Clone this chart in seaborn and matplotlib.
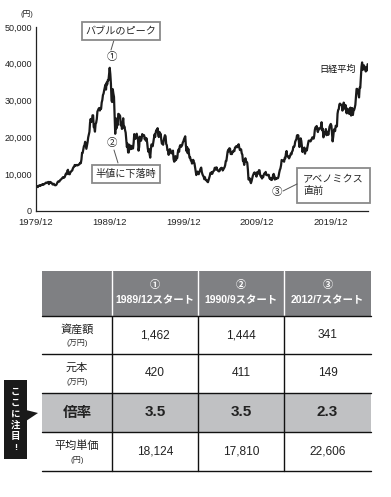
import numpy as np
import matplotlib
matplotlib.use('Agg')
import matplotlib.pyplot as plt
import seaborn as sns
from matplotlib.patches import Rectangle, Polygon

# 日経平均 月末終値 (1979/12 〜 2024/12, 円)
nikkei = [
    6569,
    6700, 6800, 6500, 6800, 6900, 7000, 6800, 7000, 7100, 7200, 7300, 7116,
    7300, 7400, 7500, 7700, 7600, 7700, 7800, 7900, 7300, 7800, 7900, 7682,
    7700, 7500, 7200, 7300, 7400, 7100, 7000, 7000, 7100, 7400, 7800, 8017,
    8000, 8000, 8300, 8500, 8600, 8800, 9000, 9200, 9000, 9100, 9300, 9894,
    10200, 10000, 10900, 11200, 10100, 10000, 10000, 10600, 10700, 10900, 11000, 11543,
    11900, 12000, 12500, 12300, 12500, 12500, 12400, 12400, 12600, 12600, 12800, 13113,
    13000, 14000, 15800, 15800, 16700, 17600, 17900, 18800, 17900, 16900, 17800, 18701,
    20000, 20700, 21500, 24000, 25000, 24200, 24500, 26000, 26000, 22800, 22700, 21564,
    23600, 24000, 25000, 27000, 27400, 27800, 28000, 27300, 27900, 27800, 29500, 30159,
    31500, 31900, 32800, 33500, 34300, 33000, 34900, 34400, 35600, 35500, 37300, 38916,
    37200, 34600, 29980, 29600, 33100, 31900, 31000, 25900, 20984, 25200, 22450, 23849,
    23300, 26400, 26300, 26100, 25800, 23300, 23900, 22300, 23900, 25200, 22700, 22984,
    22000, 21300, 19300, 17400, 18300, 15900, 15900, 18000, 17400, 16800, 17700, 16925,
    17000, 17000, 18600, 20900, 20500, 19600, 20400, 21000, 20100, 19700, 16400, 17417,
    20200, 19100, 19100, 19700, 20900, 20600, 20500, 20600, 19500, 19900, 19100, 19723,
    18600, 17000, 16100, 16800, 15400, 14500, 16700, 18100, 17900, 17600, 18700, 19868,
    20800, 20100, 21400, 22000, 21800, 22500, 20700, 20100, 21500, 20500, 21000, 19361,
    18300, 18600, 18000, 19200, 20000, 20600, 20300, 18200, 17900, 16500, 16600, 15259,
    16600, 16800, 16500, 15700, 15700, 15800, 16400, 14100, 13400, 13600, 14900, 13842,
    14500, 14400, 16000, 16700, 16100, 17500, 17900, 17400, 17600, 17900, 18600, 18934,
    19500, 19900, 20300, 17900, 16300, 17400, 15700, 16900, 15700, 14500, 14600, 13786,
    13800, 12900, 13000, 13900, 13300, 12970, 11900, 10700, 9770, 10400, 10700, 10543,
    9990, 10600, 11000, 11500, 11800, 10600, 10000, 9600, 9380, 8640, 9200, 8579,
    8340, 8360, 7970, 7830, 8420, 9080, 9560, 10340, 10220, 10560, 10100, 10677,
    10780, 11040, 11720, 11760, 11240, 11860, 11330, 11080, 10820, 10770, 10900, 11489,
    11390, 11740, 11670, 11010, 11280, 11580, 11900, 12410, 13570, 13610, 14870, 16111,
    16650, 16200, 17060, 16910, 15470, 15510, 15460, 16140, 16130, 16400, 16270, 17226,
    17380, 17600, 17290, 17400, 17880, 18140, 17250, 16570, 16790, 16740, 15680, 15308,
    13590, 13600, 12530, 13850, 14340, 13480, 13380, 13070, 11260, 8580, 8510, 8860,
    7990, 7570, 8110, 8830, 9520, 9960, 10360, 10490, 10130, 10030, 9350, 10546,
    10200, 10130, 11090, 11060, 9770, 9380, 9540, 8820, 9370, 9200, 9940, 10229,
    10240, 10620, 9760, 9850, 9690, 9820, 9830, 8960, 8700, 8990, 8430, 8455,
    8800, 9720, 10080, 9520, 8540, 9010, 8700, 8840, 8870, 8930, 9450, 10395,
    11140, 11560, 12400, 13860, 13770, 13680, 13670, 13390, 14450, 14330, 15660, 16291,
    14910, 14840, 14830, 14300, 14630, 15160, 15620, 15420, 16170, 16410, 17460, 17451,
    17670, 18800, 19210, 19520, 20560, 20240, 20590, 18890, 17390, 19080, 19750, 19034,
    17520, 16030, 16760, 16670, 17230, 15580, 16570, 16890, 16450, 17430, 18310, 19114,
    19040, 19120, 18910, 19200, 19650, 20030, 19930, 19650, 20360, 22010, 22720, 22765,
    23100, 22070, 21450, 22470, 22200, 22300, 22550, 22870, 24120, 21920, 22350, 20015,
    20770, 21390, 21200, 22260, 20600, 21280, 21520, 20700, 21760, 22930, 23290, 23657,
    23200, 21140, 18920, 20190, 21880, 22290, 21710, 23140, 23190, 22980, 26430, 27444,
    27660, 28970, 29180, 28810, 28860, 28790, 27280, 28090, 29450, 28890, 27820, 28792,
    27000, 26530, 27820, 26850, 27280, 26390, 27800, 28090, 25940, 27590, 27970, 26095,
    27330, 27450, 28040, 28860, 30890, 33190, 33170, 32620, 31860, 30860, 33490, 33464,
    36290, 39170, 40370, 38400, 38490, 39580, 39100, 38650, 37920, 39080, 38210, 39895,
]
start_year, start_month = 1979, 12

x_labels = ['1979/12', '1989/12', '1999/12', '2009/12', '2019/12']
y_ticks = [0, 10000, 20000, 30000, 40000, 50000]

# 表データ
col_heads = ['①\n1989/12スタート', '②\n1990/9スタート', '③\n2012/7スタート']
row_heads = ['資産額', '元本', '倍率', '平均単価']
row_units = ['(万円)', '(万円)', '', '(円)']
assets = ['1,462', '1,444', '341']
principal = ['420', '411', '149']
multiple = ['3.5', '3.5', '2.3']
avg_price = ['18,124', '17,810', '22,606']

sns.set_style('white')
plt.rcParams['font.family'] = ['Liberation Sans', 'Noto Sans CJK JP', 'DejaVu Sans']

dates = start_year + (start_month - 1 + np.arange(len(nikkei))) / 12
x_ticks = [start_year + (start_month - 1) / 12 + 10 * i for i in range(len(x_labels))]

fig = plt.figure(figsize=(3.91, 4.97), dpi=100)
ax = fig.add_axes([36 / 391, 1 - 211 / 497, 332 / 391, 184 / 497])
sns.lineplot(x=dates, y=nikkei, ax=ax, color='#1a1a1a', lw=1.6)
ax.set_xlim(x_ticks[0], x_ticks[0] + 45.05)
ax.set_ylim(0, 50000)
ax.set_xticks(x_ticks)
ax.set_xticklabels(x_labels)
ax.set_yticks(y_ticks)
ax.set_yticklabels([f'{v:,}' for v in y_ticks])
ax.tick_params(direction='in', length=4, width=0.8, labelsize=6.5, colors='#222222', pad=3)
ax.tick_params(axis='x', pad=5, labelsize=6.8)
for s in ['top', 'right']:
    ax.spines[s].set_visible(False)
for s in ['left', 'bottom']:
    ax.spines[s].set_color('#222222')
    ax.spines[s].set_linewidth(0.9)
ax.set_xlabel('')
ax.set_ylabel('')

# 全体のオーバーレイ (ピクセル座標)
ov = fig.add_axes([0, 0, 1, 1])
ov.set_xlim(0, 391)
ov.set_ylim(497, 0)
ov.axis('off')

ov.text(27, 14, '(円)', fontsize=5.5, ha='center', va='center', color='#222222')

box = dict(boxstyle='square,pad=0.35', fc='white', ec='#8a8a8a', lw=1.3)
ov.text(121, 31, 'バブルのピーク', fontsize=7.3, ha='center', va='center', bbox=box)
ov.plot([114, 111], [40, 50], color='#555555', lw=0.7)
ov.text(112, 57, '①', fontsize=7.5, ha='center', va='center')

ov.text(112, 143, '②', fontsize=7.5, ha='center', va='center')
ov.plot([114, 118], [150, 163], color='#555555', lw=0.7)
ov.text(126, 174, '半値に下落時', fontsize=7.3, ha='center', va='center', bbox=box)

ov.text(277, 192, '③', fontsize=7.5, ha='center', va='center')
ov.plot([283, 297], [191, 184], color='#555555', lw=0.7)
ov.add_patch(Rectangle((297, 168), 73, 35, fc='white', ec='#8a8a8a', lw=1.3))
ov.text(303, 185, 'アベノミクス\n直前', fontsize=7.3, ha='left', va='center', linespacing=1.3)

ov.text(356, 69, '日経平均', fontsize=6.6, ha='right', va='center', color='#111111')

# 表
col_w = [70, 86, 86, 87]
row_h = [45, 38, 39, 39, 39]
x0, y0 = 42, 271
xs = np.concatenate([[x0], x0 + np.cumsum(col_w)])
ys = np.concatenate([[y0], y0 + np.cumsum(row_h)])

ov.add_patch(Rectangle((xs[0], ys[0]), xs[-1] - xs[0], row_h[0], fc='#7f8083', ec='none'))
ov.add_patch(Rectangle((xs[0], ys[3]), xs[-1] - xs[0], row_h[3], fc='#c0c1c3', ec='none'))
for xv in xs[1:-1]:
    ov.plot([xv, xv], [ys[0], ys[1]], color='white', lw=1.0)
    ov.plot([xv, xv], [ys[1], ys[-1]], color='#111111', lw=1.0)
for yv in ys[1:]:
    ov.plot([xs[0], xs[-1]], [yv, yv], color='#111111', lw=1.0)

for j, h in enumerate(col_heads):
    cx = (xs[j + 1] + xs[j + 2]) / 2
    num, lab = h.split('\n')
    ov.text(cx, ys[0] + 14, num, fontsize=7.3, ha='center', va='center', color='white', fontweight='bold')
    ov.text(cx, ys[0] + 29, lab, fontsize=7.5, ha='center', va='center', color='white', fontweight='bold')

values = [assets, principal, multiple, avg_price]
for i, (rh, unit, vals) in enumerate(zip(row_heads, row_units, values)):
    cy = (ys[i + 1] + ys[i + 2]) / 2
    cx0 = (xs[0] + xs[1]) / 2
    if unit:
        ov.text(cx0, cy - 5.5, rh, fontsize=8, ha='center', va='center', color='#222222')
        ov.text(cx0, cy + 8, unit, fontsize=5.8, ha='center', va='center', color='#333333')
    else:
        ov.text(cx0, cy, rh, fontsize=10.5, ha='center', va='center', color='#222222', fontweight='bold')
    for j, v in enumerate(vals):
        cx = (xs[j + 1] + xs[j + 2]) / 2
        if unit:
            ov.text(cx, cy, v, fontsize=8.6, ha='center', va='center', color='#222222')
        else:
            ov.text(cx, cy, v, fontsize=11, ha='center', va='center', color='#222222', fontweight='bold')

# ここに注目!
ov.add_patch(Rectangle((4, 380), 23, 79, fc='#1a1a1a', ec='none'))
ov.add_patch(Polygon([(26, 410), (38, 413), (26, 421)], closed=True, fc='#1a1a1a', ec='none'))
for k, ch in enumerate('ここに注目!'):
    ov.text(15.5, 392 + 11.2 * k, ch, fontsize=6.8, ha='center', va='center',
            color='white', fontweight='bold')

fig.savefig('out.png', dpi=100)
